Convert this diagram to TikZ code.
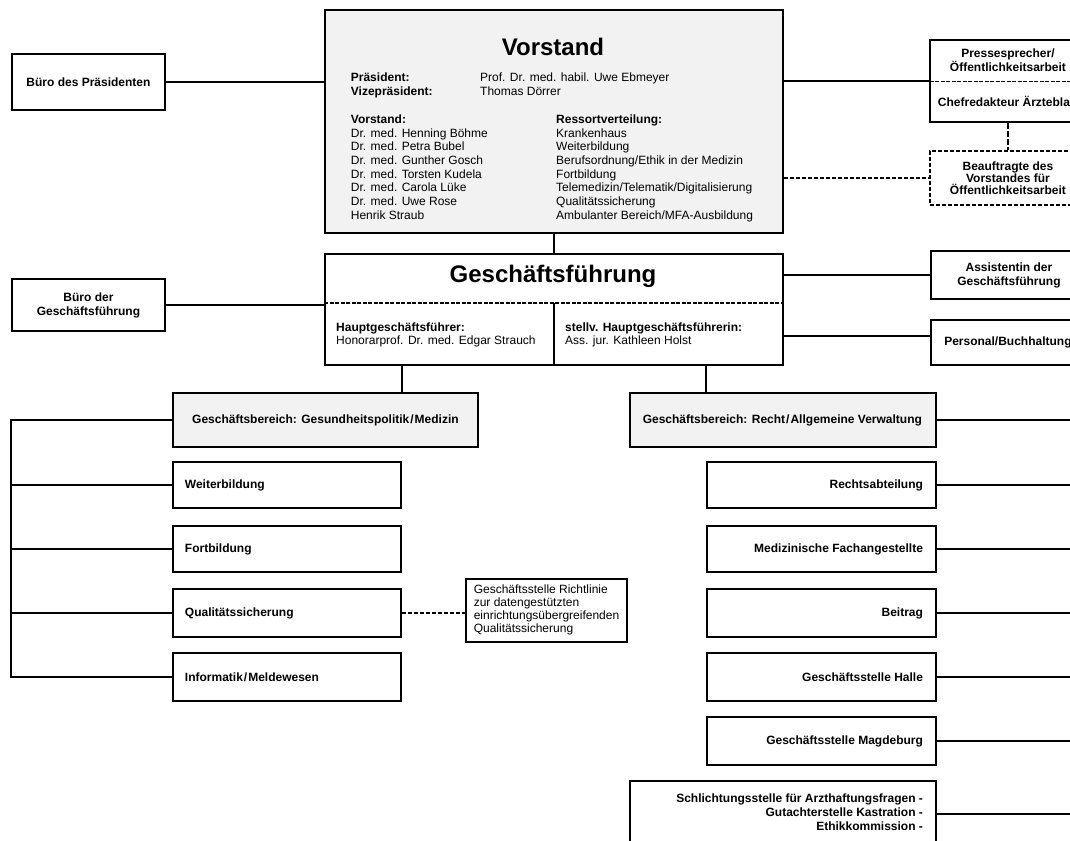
\documentclass[tikz,border=0pt]{standalone}
\usepackage{fontspec}
\setmainfont{Liberation Sans}
\usetikzlibrary{calc}
\definecolor{boxgray}{HTML}{F2F2F2}
\newcommand\lblfont{\fontsize{12}{13}\selectfont\bfseries}
\newcommand\lblfonttight{\fontsize{12}{12}\selectfont\bfseries}
\newcommand\lblfontwide{\fontsize{12}{14}\selectfont\bfseries}
\newcommand\txtfont{\fontsize{12}{13.7}\selectfont}
\newcommand\gftxtfont{\fontsize{12}{13}\selectfont}
\newcommand\rtfont{\fontsize{12}{13.3}\selectfont\mdseries}
\newcommand\bigtitlefont{\fontsize{24}{28}\selectfont\bfseries}
\newcommand\colbox[1]{\begin{tabular}[t]{@{}l@{}}#1\end{tabular}}
\begin{document}
\begin{tikzpicture}[x=1pt,y=-1pt,
  box/.style={draw, line width=1.9pt, rectangle, inner sep=0pt, anchor=north west, font=\lblfont, align=center},
  graybox/.style={fill=boxgray},
  dashbox/.style={dash pattern=on 4pt off 2pt},
  lbl/.style={inner sep=0pt, font=\lblfont, align=center},
  txt/.style={inner sep=0pt, anchor=base west, font=\txtfont},
  conn/.style={line width=1.9pt},
  dconn/.style={line width=1.9pt, dash pattern=on 4pt off 2pt},
  dconnlong/.style={line width=1.9pt, dash pattern=on 6pt off 2pt},
  sepdash/.style={line width=1.4pt, dash pattern=on 4pt off 1.5pt},
]
\path[use as bounding box] (0,0) rectangle (1070,840);
\clip (0,0) rectangle (1070,840);

% ---- top level ----
\node[box, minimum width=153pt, minimum height=56pt] (praes) at (11,53) {Büro des Präsidenten};
\node[box, font=\lblfontwide, minimum width=153pt, minimum height=52pt] (bgf) at (11,278) {Büro der\\Geschäftsführung};
\node[box, graybox, minimum width=458pt, minimum height=223pt] (vorstand) at (324,9) {};
\node[box, minimum width=458pt, minimum height=111pt] (gf) at (324,253) {};

% Vorstand contents
\node[inner sep=0pt, font=\bigtitlefont] (vtitle) at (553,46.7) {Vorstand};
\node[txt] (vlab) at (350.7,81.6) {\colbox{\textbf{Präsident:}\\\textbf{Vizepräsident:}}};
\node[txt] (vnames) at (480,81.6) {\colbox{Prof. Dr. med. habil. Uwe Ebmeyer\\Thomas Dörrer}};
\node[txt] (vmembers) at (350.7,123.3) {\colbox{\textbf{Vorstand:}\\Dr. med. Henning Böhme\\Dr. med. Petra Bubel\\Dr. med. Gunther Gosch\\Dr. med. Torsten Kudela\\Dr. med. Carola Lüke\\Dr. med. Uwe Rose\\Henrik Straub}};
\node[txt] (vressort) at (556,123.3) {\colbox{\textbf{Ressortverteilung:}\\Krankenhaus\\Weiterbildung\\Berufsordnung/Ethik in der Medizin\\Fortbildung\\Telemedizin/Telematik/Digitalisierung\\Qualitätssicherung\\Ambulanter Bereich/MFA-Ausbildung}};

% Geschaeftsfuehrung contents
\node[inner sep=0pt, font=\bigtitlefont] (gftitle) at (553,276.7) {Geschäftsführung};
\coordinate (gfsep) at ($(gf.north west)+(0,50)$);
\draw[sepdash] (gfsep) -- (gfsep -| gf.east);
\draw[conn] (gf.south) -- (gfsep -| gf.south);
\node[txt, font=\gftxtfont] (hgf) at (336,331.6) {\colbox{\textbf{Hauptgeschäftsführer:}\\Honorarprof. Dr. med. Edgar Strauch}};
\node[txt, font=\gftxtfont] (sgf) at (565,331.6) {\colbox{\textbf{stellv. Hauptgeschäftsführerin:}\\Ass. jur. Kathleen Holst}};

% ---- right top ----
\node[box, minimum width=156pt, minimum height=82pt] (presse) at (929,39) {};
\node[lbl, font=\lblfonttight, minimum width=156pt, minimum height=42pt, anchor=north] (presseA) at (presse.north) {Pressesprecher/\\Öffentlichkeitsarbeit};
\node[lbl, minimum width=156pt, minimum height=40pt, anchor=north] (chefB) at (presseA.south) {Chefredakteur Ärzteblatt};
\draw[sepdash] (presseA.south west) -- (presseA.south east);
\node[box, dashbox, font=\lblfonttight, minimum width=156pt, minimum height=54pt] (beauf) at (929,150) {Beauftragte des\\Vorstandes für\\Öffentlichkeitsarbeit};
\node[box, font=\lblfontwide, minimum width=156pt, minimum height=48pt] (assist) at (930,250) {Assistentin der\\Geschäftsführung};
\node[box, minimum width=154pt, minimum height=45pt] (personal) at (930,319) {Personal/Buchhaltung};

% ---- left department ----
\node[box, graybox, minimum width=305pt, minimum height=54pt] (gbmed) at (172,392) {Geschäftsbereich: Gesundheitspolitik\kern1pt/\kern1pt Medizin};
\node[box, minimum width=228pt, minimum height=46pt, inner xsep=12pt] (weiter) at (172,461) {\makebox[204pt][l]{Weiterbildung}};
\node[box, minimum width=228pt, minimum height=46pt, inner xsep=12pt] (fort) at (172,525) {\makebox[204pt][l]{Fortbildung}};
\node[box, minimum width=228pt, minimum height=48pt, inner xsep=12pt] (quali) at (172,588) {\makebox[204pt][l]{Qualitätssicherung}};
\node[box, minimum width=228pt, minimum height=48pt, inner xsep=12pt] (info) at (172,652) {\makebox[204pt][l]{Informatik\kern1pt/\kern1pt Meldewesen}};
\node[box, font=\rtfont, line width=1.6pt, minimum width=161pt, minimum height=63pt, inner xsep=8pt] (richt) at (465,578) {\makebox[145pt][l]{\begin{tabular}{@{}l@{}}Geschäftsstelle Richtlinie\\zur datengestützten\\einrichtungsübergreifenden\\Qualitätssicherung\end{tabular}}};

% ---- right department ----
\node[box, graybox, minimum width=306pt, minimum height=54pt, inner xsep=14pt] (gbrecht) at (629,392) {\makebox[278pt][r]{Geschäftsbereich: Recht\kern1pt/\kern1pt Allgemeine Verwaltung}};
\node[box, minimum width=229pt, minimum height=46pt, inner xsep=13pt] (recht) at (706,461) {\makebox[203pt][r]{Rechtsabteilung}};
\node[box, minimum width=229pt, minimum height=46pt, inner xsep=13pt] (mfa) at (706,525) {\makebox[203pt][r]{Medizinische Fachangestellte}};
\node[box, minimum width=229pt, minimum height=48pt, inner xsep=13pt] (beitrag) at (706,588) {\makebox[203pt][r]{Beitrag}};
\node[box, minimum width=229pt, minimum height=48pt, inner xsep=13pt] (halle) at (706,652) {\makebox[203pt][r]{Geschäftsstelle Halle}};
\node[box, minimum width=229pt, minimum height=48pt, inner xsep=13pt] (magd) at (706,716) {\makebox[203pt][r]{Geschäftsstelle Magdeburg}};
\node[box, font=\lblfontwide, minimum width=306pt, minimum height=66pt, inner xsep=13pt] (schl) at (629,780) {\makebox[280pt][r]{\begin{tabular}{@{}r@{}}Schlichtungsstelle für Arzthaftungsfragen -\\Gutachterstelle Kastration -\\Ethikkommission -\end{tabular}}};

% ---- connectors ----
\draw[conn] (praes.east) -- (praes.east -| vorstand.west);
\draw[conn] (bgf.east) -- (bgf.east -| gf.west);
\draw[conn] (vorstand.south) -- (gf.north);
\draw[conn] (presseA.south west -| vorstand.east) -- (presseA.south west);
\draw[dconn] (beauf.west -| vorstand.east) -- (beauf.west);
\draw[dconnlong] (presse.south) -- (beauf.north);
\draw[conn] (assist.west -| gf.east) -- (assist.west);
\coordinate (pconn) at ($(personal.west)+(0,-6.5)$);
\draw[conn] (pconn -| gf.east) -- (pconn);

\draw[conn] (weiter.east |- gf.south) -- (weiter.east |- gbmed.north);
\draw[conn] (recht.west |- gf.south) -- (recht.west |- gbrecht.north);

\coordinate (lbus) at (praes.west);
\draw[conn] (gbmed.west) -- (gbmed.west -| lbus) -- (info.west -| lbus) -- (info.west);
\foreach \n in {weiter,fort,quali} \draw[conn] (\n.west) -- (\n.west -| lbus);
\draw[dconn] (quali.east) -- (quali.east -| richt.west);

\coordinate (rbus) at (1080,0);
\foreach \n in {gbrecht,recht,mfa,beitrag,halle,magd,schl} \draw[conn] (\n.east) -- (\n.east -| rbus);
\end{tikzpicture}
\end{document}
